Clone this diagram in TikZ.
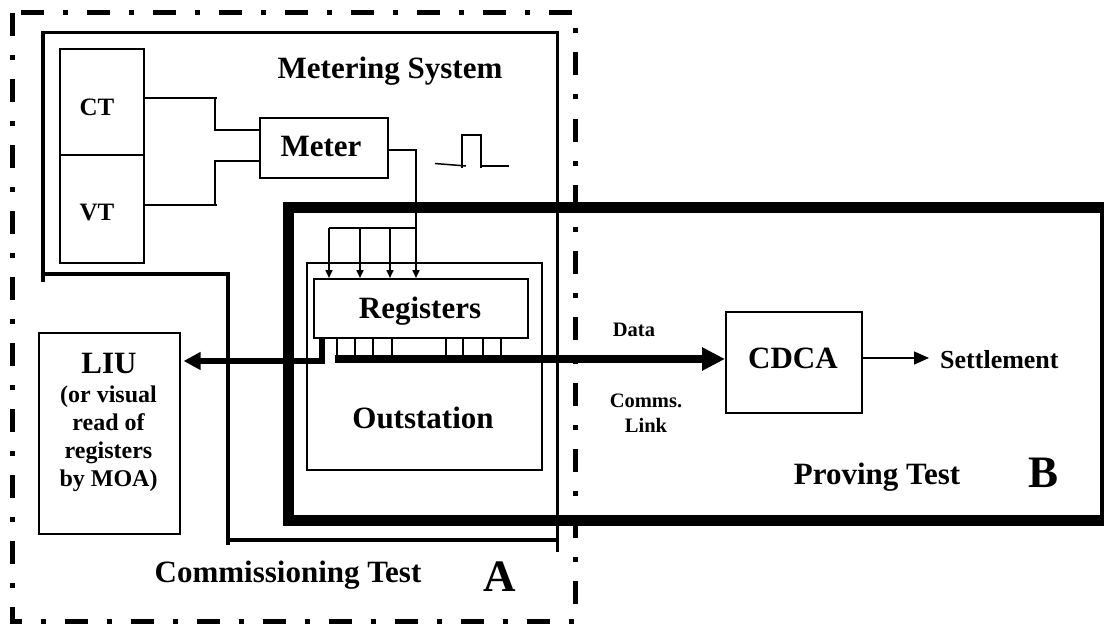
\documentclass[tikz,border=0pt]{standalone}
\usepackage{fontspec}
\setmainfont{Liberation Serif}
\usetikzlibrary{arrows.meta,calc}
\begin{document}
\begin{tikzpicture}[x=1pt,y=-1pt,
  box/.style={draw,line width=1.6pt,inner sep=0pt,anchor=north west},
  lbl/.style={inner sep=0pt,anchor=base},
  thinln/.style={line width=1.6pt},
  heavy/.style={line width=3.5pt},
  smallhead/.style={-{Triangle[length=8pt,width=7pt]}},
  fA/.style={font=\bfseries\fontsize{31}{36}\selectfont},
  fB/.style={font=\bfseries\fontsize{25}{30}\selectfont},
  fC/.style={font=\bfseries\fontsize{24}{28}\selectfont},
  fD/.style={font=\bfseries\fontsize{20.5}{24}\selectfont},
  fE/.style={font=\bfseries\fontsize{45}{50}\selectfont},
  fF/.style={font=\bfseries\fontsize{26}{30}\selectfont}
 ]
\useasboundingbox (0,0) rectangle (1104,626);
\fill[white] (0,0) rectangle (1104,626);

% boxes
\node[box,minimum width=84pt,minimum height=106pt] (ct) at (59,48) {};
\node[box,minimum width=84pt,minimum height=108pt] (vt) at (59,154) {};
\node[box,minimum width=128pt,minimum height=60pt] (meter) at (259,117) {};
\node[box,minimum width=235pt,minimum height=207pt] (out) at (306,262) {};
\node[box,minimum width=214pt,minimum height=59pt] (reg) at (313,278) {};
\node[box,minimum width=141pt,minimum height=201pt] (liu) at (38,332) {};
\node[box,minimum width=136pt,minimum height=101pt] (cdca) at (725,311) {};

% texts
\node[lbl,fA] (msys) at (390,78) {Metering System};
\node[lbl,fB] (ctt) at (97,115) {CT};
\node[lbl,fB] (vtt) at (97,220) {VT};
\node[lbl,fA] (metert) at (321,157) {Meter};
\node[lbl,fA] (regt) at (420,318) {Registers};
\node[lbl,fA] (outt) at (423,428) {Outstation};
\node[lbl,fA] (liut) at (109,373) {LIU};
\node[lbl,fC] (liu1) at (108.5,402) {(or visual};
\node[lbl,fC] (liu2) at (108.5,430) {read of};
\node[lbl,fC] (liu3) at (108.5,458) {registers};
\node[lbl,fC] (liu4) at (108.5,486) {by MOA)};
\node[lbl,fA] (comm) at (288,582) {Commissioning Test};
\node[lbl,fE] (lA) at (500,591) {A};
\node[lbl,fD] (data) at (634,336) {Data};
\node[lbl,fD] (comms) at (646,407) {Comms.};
\node[lbl,fD] (link) at (646,432) {Link};
\node[lbl,fA] (cdcat) at (793,368) {CDCA};
\node[lbl,fF,anchor=base west] (settle) at (940,368) {Settlement};
\node[lbl,fA] (prov) at (877,484) {Proving Test};
\node[lbl,fE] (lB) at (1043,487) {B};

% metering system outline
\draw[heavy] (43,282) -- (43,32.5) -- (557.5,32.5) -- (557.5,552);
\draw[heavy] (41.25,274) -- (228,274) -- (228,545);
\draw[heavy] (226.25,540) -- (557.5,540);

% commissioning boundary (dash-dot)
\draw[line width=5pt, dash pattern=on 23pt off 19pt on 5pt off 19pt] (12.5,13) rectangle (575,621);

% proving test boundary
\draw[line width=11pt] (288.5,207.5) rectangle (1105,520.5);

% CT / VT to meter
\draw[thinln] (ct.east |- 0,98.3) -- (217,98.3);
\draw[thinln] (215,98.3) -- (215,130) -- (meter.west |- 0,130);
\draw[thinln] (vt.east |- 0,205) -- (217,205);
\draw[thinln] (215,205) -- (215,161) -- (meter.west |- 0,161);

% pulse symbol
\draw[line width=1.5pt] (435,163.5) -- (466,166);
\draw[line width=1.5pt] (462,168) -- (462,135) -- (481,135) -- (481,168);
\draw[line width=1.5pt] (481,166) -- (509,166);

% meter to registers
\draw[thinln,smallhead] (meter.east |- 0,150) -- (416,150) -- (reg.north -| 416,0);
\draw[thinln] (329,228) -- (416,228);
\foreach \x in {329,360,390} \draw[thinln,smallhead] (\x,228) -- (reg.north -| \x,0);

% register pins
\foreach \x in {337,355,373,392,446,463,483,501} \draw[line width=2.5pt] (reg.south -| \x,0) -- (\x,357);

% to LIU
\draw[line width=5.5pt,-{Triangle[length=17pt,width=17pt]}] (reg.south -| 322,0) -- (322,361) -- ($(liu.east |- 0,361)+(3,0)$);

% data link to CDCA
\draw[line width=8pt,-{Triangle[length=23pt,width=22pt]}] (335,359) -- (cdca.west |- 0,359);

% settlement
\draw[thinln,-{Triangle[length=15pt,width=13pt]}] (cdca.east |- 0,358) -- ($(settle.west |- 0,358)+(-11,0)$);
\end{tikzpicture}
\end{document}
